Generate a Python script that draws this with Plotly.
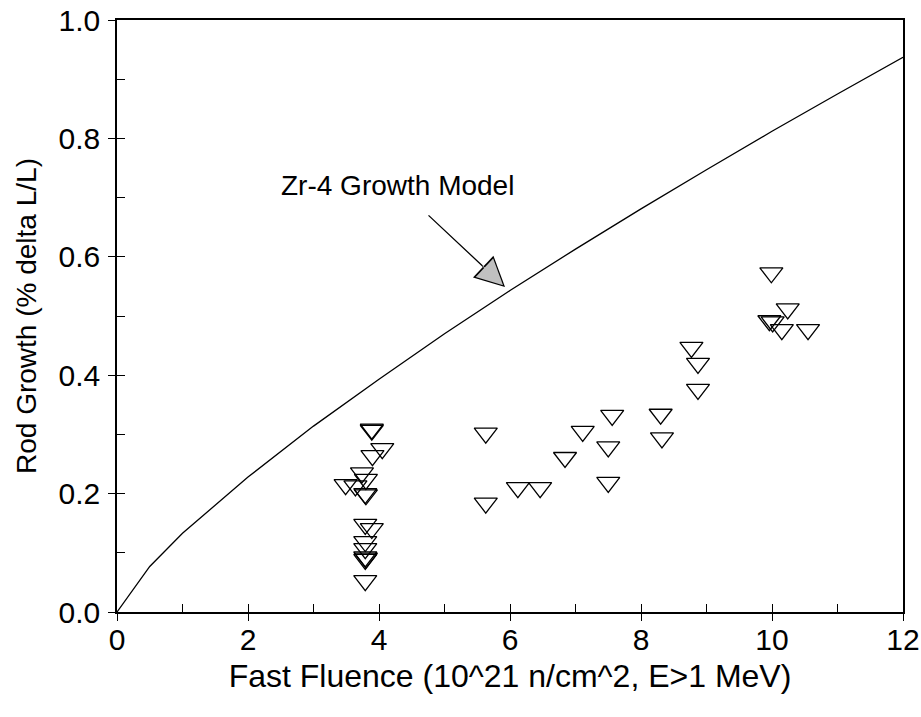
import plotly.graph_objects as go

# Zr-4 growth model curve
model_fluence = [0, 0.5, 1, 2, 3, 4, 5, 6, 7, 8, 9, 10, 11, 12]
model_growth = [0, 0.077, 0.133, 0.228, 0.314, 0.393, 0.470, 0.543, 0.613, 0.681, 0.747, 0.812, 0.875, 0.937]

# Measured rod growth data
fluence = [3.89, 3.89, 4.05, 3.90, 3.74, 3.80, 3.49, 3.64, 3.79, 3.80, 3.79, 3.89, 3.79, 3.79, 3.79, 3.80, 3.79, 3.79,
           5.63, 5.63, 6.12, 6.46, 6.84, 7.11, 7.56, 7.50, 7.50, 8.30, 8.32, 8.77, 8.87, 8.87,
           9.99, 10.24, 9.96, 10.01, 10.15, 10.55]
growth = [0.309, 0.307, 0.276, 0.264, 0.235, 0.224, 0.215, 0.213, 0.200, 0.198, 0.148, 0.141, 0.119, 0.107, 0.093, 0.091, 0.089, 0.053,
          0.302, 0.184, 0.210, 0.210, 0.261, 0.305, 0.332, 0.279, 0.219, 0.334, 0.294, 0.447, 0.420, 0.376,
          0.573, 0.512, 0.492, 0.490, 0.477, 0.477]

x_ticks = [0, 2, 4, 6, 8, 10, 12]
y_ticks = [0.0, 0.2, 0.4, 0.6, 0.8, 1.0]
y_ticklabels = ["0.0", "0.2", "0.4", "0.6", "0.8", "1.0"]

FONT = "Liberation Sans, Arial, sans-serif"

fig = go.Figure()
fig.add_trace(go.Scatter(x=model_fluence, y=model_growth, mode="lines",
                         line=dict(color="black", width=1.3), showlegend=False, hoverinfo="skip"))
fig.add_trace(go.Scatter(x=fluence, y=growth, mode="markers",
                         marker=dict(symbol="triangle-down-open", size=20, color="black",
                                     line=dict(color="black", width=1.3)),
                         showlegend=False))
# dummy traces to activate overlay axes (inside / outside tick marks)
fig.add_trace(go.Scatter(x=[None], y=[None], xaxis="x2", yaxis="y2", showlegend=False, hoverinfo="skip"))
fig.add_trace(go.Scatter(x=[None], y=[None], xaxis="x3", yaxis="y3", showlegend=False, hoverinfo="skip"))

axis_common = dict(showgrid=False, zeroline=False, showline=True, linecolor="black", linewidth=1.5,
                   mirror=True, ticks="", automargin=False,
                   tickfont=dict(family=FONT, size=30, color="black"))

tick_common = dict(tickwidth=1.3, tickcolor="black", automargin=False,
                   showticklabels=False, showgrid=False, zeroline=False, showline=False)

fig.update_layout(
    width=921, height=717,
    margin=dict(l=117, r=18, t=20, b=105, autoexpand=False),
    paper_bgcolor="white", plot_bgcolor="white",
    xaxis=dict(range=[0, 12], tickvals=x_ticks, ticktext=[str(v) for v in x_ticks],
               title=dict(text="Fast Fluence (10^21 n/cm^2, E>1 MeV)",
                          font=dict(family=FONT, size=32, color="black"), standoff=10),
               **axis_common),
    yaxis=dict(range=[0, 1], tickvals=y_ticks, ticktext=y_ticklabels, ticklabelstandoff=9,
               title=dict(text="Rod Growth (% delta L/L)",
                          font=dict(family=FONT, size=28, color="black"), standoff=14),
               **axis_common),
    xaxis2=dict(range=[0, 12], overlaying="x", anchor="y", side="bottom", dtick=1, tick0=0,
                ticks="inside", ticklen=8, **tick_common),
    yaxis2=dict(range=[0, 1], overlaying="y", anchor="x", side="left", dtick=0.1, tick0=0,
                ticks="inside", ticklen=8, **tick_common),
    xaxis3=dict(range=[0, 12], overlaying="x", anchor="y", side="bottom", dtick=2, tick0=0,
                ticks="outside", ticklen=8, **tick_common),
    yaxis3=dict(range=[0, 1], overlaying="y", anchor="x", side="left", dtick=0.2, tick0=0,
                ticks="outside", ticklen=8, **tick_common),
    annotations=[
        dict(x=4.275, y=0.721, xref="x", yref="y", text="Zr-4 Growth Model", showarrow=False,
             font=dict(family=FONT, size=28, color="black")),
        dict(x=5.924, y=0.549, xref="x", yref="y", text="", showarrow=True,
             ax=-78, ay=-73, arrowhead=2, arrowwidth=1.3, arrowsize=4.6, arrowcolor="black"),
        dict(x=5.924, y=0.549, xref="x", yref="y", text="", showarrow=True,
             ax=-24, ay=-22.5, arrowhead=2, arrowwidth=1, arrowsize=5.1, standoff=2.7,
             arrowcolor="#c0c0c0"),
    ],
)

fig.write_html("out.html")
